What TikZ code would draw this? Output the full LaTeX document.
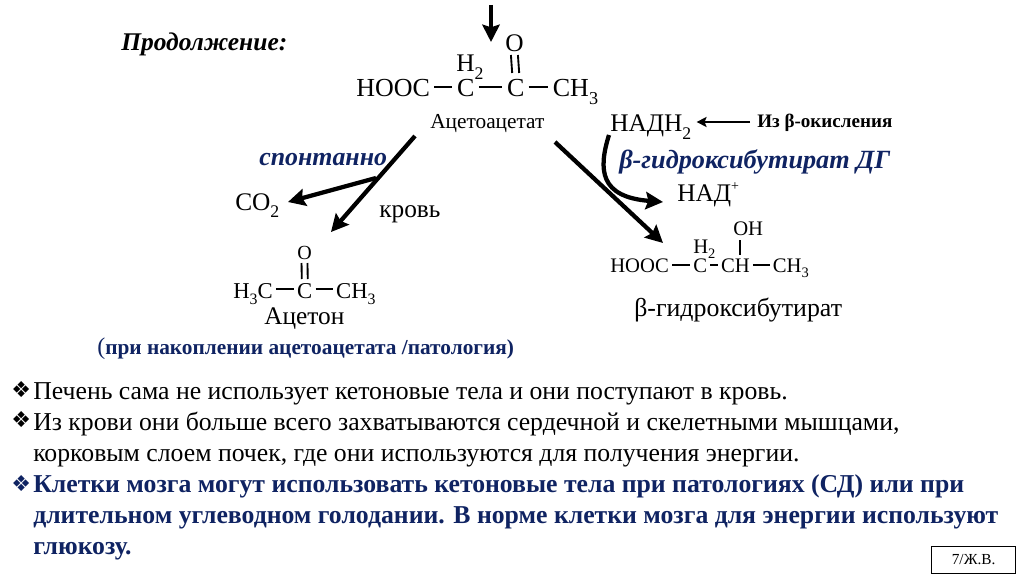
\documentclass[tikz,border=0pt]{standalone}
\usepackage{fontspec}
\usepackage{xcolor}
\setmainfont{Liberation Serif}
\newfontfamily\bulletfont{DejaVu Sans}
\usetikzlibrary{arrows.meta,calc,positioning}
\definecolor{slidenavy}{HTML}{0F2362}
\newcommand{\fpx}[1]{\fontsize{#1}{#1}\selectfont}
\newcommand{\lowidx}[1]{\raisebox{-.28em}{\scalebox{.7}{#1}}}

\begin{document}
\begin{tikzpicture}[
  x=0.75pt,y=-0.75pt,
  txt/.style={inner sep=0pt,anchor=base west},
  atom/.style={inner sep=0pt,font=\fpx{19.5}},
  smallatom/.style={inner sep=0pt,font=\fpx{17}},
  tinyatom/.style={inner sep=0pt,font=\fpx{15.5}},
  caption/.style={txt,font=\fpx{19}},
  body/.style={txt,font=\fpx{19.3}},
  navy/.style={txt,text=slidenavy,font=\fpx{19.3}\bfseries},
  tick/.style={txt,font=\bulletfont\fpx{16.5}},
  route/.style={line width=3.2pt,-{Stealth[length=13pt,width=13pt,inset=2pt]}},
  bond/.style={line width=1.4pt},
  feed/.style={line width=1.6pt,-{Stealth[length=7.5pt,width=7.5pt,inset=1.5pt]}}
]
  \useasboundingbox (0,0) rectangle (1024,574);

  \node[txt,font=\fpx{19.1}\bfseries\itshape] (cont) at (121,51) {Продолжение:};

  % acetoacetate
  \node[txt,font=\fpx{19.5}] (hooc) at (356,97) {HOOC};
  \node[atom,base right=20pt of hooc] (ca) {C};
  \node[atom,base right=24pt of ca] (cb) {C};
  \node[atom,base right=21pt of cb] (cha) {CH\lowidx{3}};
  \node[txt,font=\fpx{19}] (hb) at (456,72) {H\lowidx{2}};
  \node[txt,font=\fpx{19}] (oa) at (505,52) {O};
  \node[caption,font=\fpx{16}] (aa) at (430,129) {Ацетоацетат};

  % acetone
  \node[smallatom,txt] (hc) at (233,298) {H\lowidx{3}C};
  \node[smallatom,base right=18pt of hc] (cc) {C};
  \node[smallatom,base right=17.5pt of cc] (chb) {CH\lowidx{3}};
  \node[txt,font=\fpx{15}] (ob) at (297,259) {O};
  \node[caption] (act) at (264,324) {Ацетон};
  \node[txt,font=\fpx{19}] (co) at (235,210) {CO\lowidx{2}};
  \node[caption] (blood) at (379,217) {кровь};
  \node[txt,text=slidenavy,font=\fpx{19.4}\bfseries\itshape] (spon) at (259,166) {спонтанно};
  \node[txt,text=slidenavy,font=\fpx{16}\bfseries] (patho) at (97,354)
    {{\fpx{18}\mdseries(}при накоплении ацетоацетата /патология)};

  % beta-hydroxybutyrate
  \node[txt,font=\fpx{19}] (nadh) at (610,132) {НАДН\lowidx{2}};
  \node[txt,font=\fpx{14.3}\bfseries] (ox) at (757,128) {Из β-окисления};
  \node[txt,text=slidenavy,font=\fpx{19.7}\bfseries\itshape] (dg) at (619,169) {β-гидроксибутират ДГ};
  \node[txt,font=\fpx{19}] (nad) at (677,201) {НАД\raisebox{.4em}{\scalebox{.55}{+}}};
  \node[tinyatom,txt] (hood) at (610,272) {HOOC};
  \node[tinyatom,base right=18pt of hood] (cd) {C};
  \node[tinyatom,base right=10pt of cd] (ch) {CH};
  \node[tinyatom,base right=17pt of ch] (chc) {CH\lowidx{3}};
  \node[tinyatom,txt] (he) at (693,253) {H\lowidx{2}};
  \node[tinyatom,txt] (oh) at (733,235) {OH};
  \node[caption,font=\fpx{19.4}] (bhb) at (634,316) {β-гидроксибутират};

  % free ends of the arrows
  \coordinate (topa) at (491,5);
  \coordinate (topb) at (491,42);
  \coordinate (aaleft) at (415,136);
  \coordinate (acetend) at (331,232);
  \coordinate (fork) at (376,178);
  \coordinate (coend) at (288,202);
  \coordinate (aaright) at (555,142);
  \coordinate (bhbend) at (663,243);
  \coordinate (nadhtail) at (609,135);
  \coordinate (nadend) at (663,202);

  \draw[route] (topa) -- (topb);
  \draw[route] (aaleft) -- (acetend);
  \draw[route] (fork) -- (coend);
  \draw[route] (aaright) -- (bhbend);
  \draw[route] (nadhtail) .. controls (598,170) and (600,197) .. (nadend);
  \draw[feed] ([shift={(-7,-6)}]ox.base west) -- ([shift={(5,-6)}]ox.base west -| nadh.east);

  % bonds
  \foreach \a/\b in {hooc/ca,ca/cb,cb/cha}
    \draw[bond] ([shift={(4,-10)}]\a.base east) -- ([shift={(-5,-10)}]\b.base west);
  \foreach \a/\b in {hc/cc,cc/chb}
    \draw[bond] ([shift={(3,-9)}]\a.base east) -- ([shift={(-3,-9)}]\b.base west);
  \foreach \a/\b in {hood/cd,cd/ch,ch/chc}
    \draw[bond] ([shift={(3,-7)}]\a.base east) -- ([shift={(-3,-7)}]\b.base west);
  \foreach \d in {-3.5,3.5} {
    \draw[bond] ([shift={(\d,3)}]oa.base) -- ([shift={(\d,-24)}]cb.base);
    \draw[bond] ([shift={(\d*.85,4)}]ob.base) -- ([shift={(\d*.85,-19)}]cc.base);
  }
  \draw[bond] ([shift={(7,5)}]oh.base west) -- ([shift={(7,20)}]oh.base west);

  % notes
  \node[tick] (ta) at (11,397) {❖};
  \node[body] (la) at (33,399) {Печень сама не использует кетоновые тела и они поступают в кровь.};
  \node[tick] (tb) at (11,427) {❖};
  \node[body] (lb) at (33,430) {Из крови они больше всего захватываются сердечной и скелетными мышцами,};
  \node[body] (lc) at (33,461) {корковым слоем почек, где они используются для получения энергии.};
  \node[tick,text=slidenavy] (tc) at (11,491) {❖};
  \node[navy] (ld) at (33,492) {Клетки мозга могут использовать кетоновые тела при патологиях (СД) или при};
  \node[navy] (le) at (33,523) {длительном углеводном голодании. В норме клетки мозга для энергии используют};
  \node[navy] (lf) at (33,554) {глюкозу.};

  \node[draw,line width=.9pt,minimum width=63pt,minimum height=20pt,inner sep=0pt,font=\fpx{11.5},anchor=north west] (page) at (931,546) {7/Ж.В.};
\end{tikzpicture}
\end{document}
